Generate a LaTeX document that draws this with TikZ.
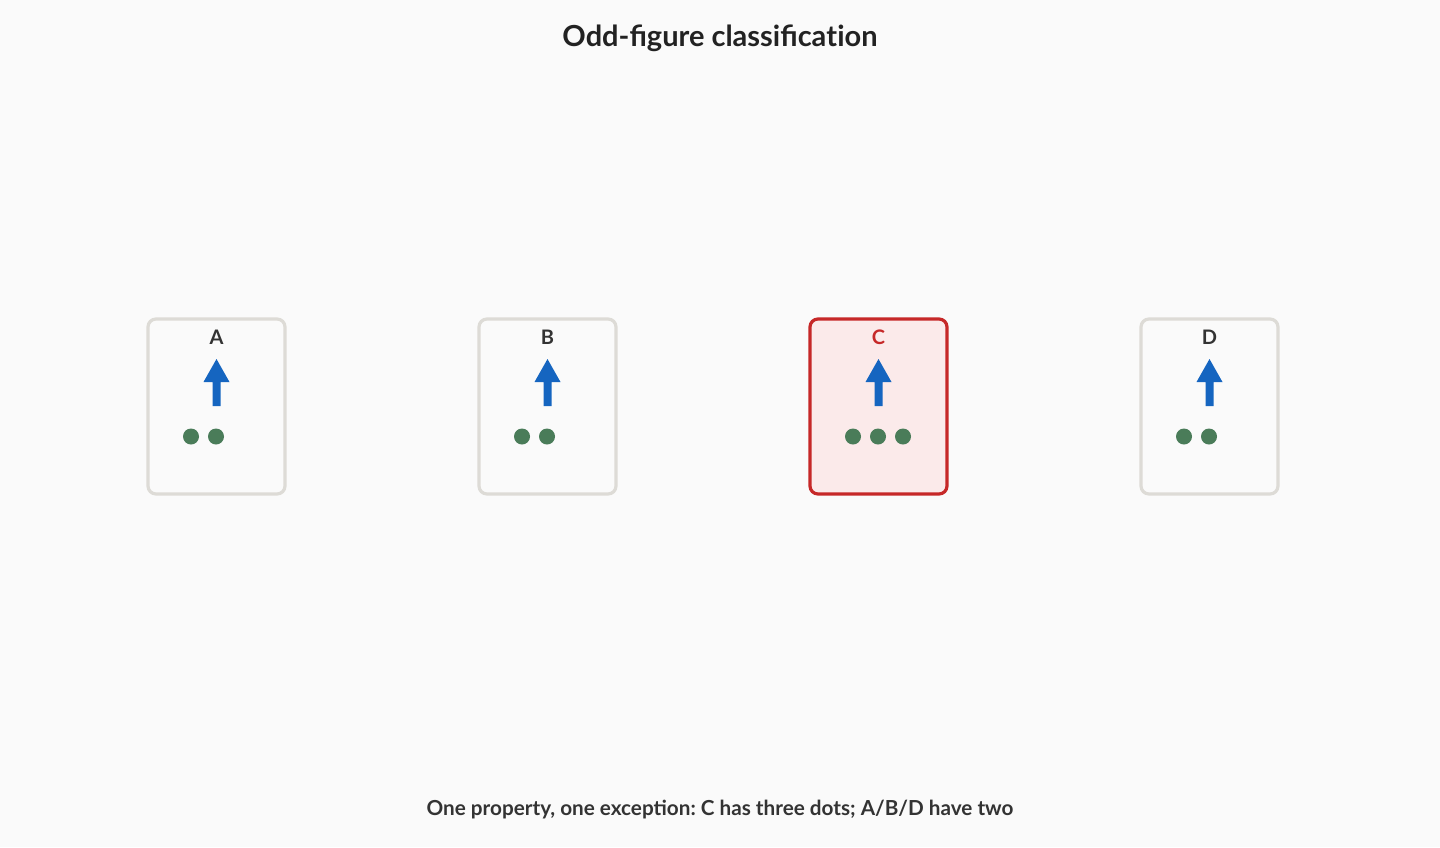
\documentclass[tikz,border=0pt]{standalone}
\usepackage{fontspec}
\setmainfont{Lato}
\usetikzlibrary{calc}
\frenchspacing
\definecolor{bg}{HTML}{FAFAFA}
\definecolor{cardedge}{HTML}{DDDBD6}
\definecolor{oddedge}{HTML}{C62828}
\definecolor{oddfill}{HTML}{FBEAEA}
\definecolor{arrowblue}{HTML}{1565C0}
\definecolor{dotgreen}{HTML}{4A7C59}
\definecolor{textdark}{HTML}{333333}
\definecolor{titledark}{HTML}{222222}
\tikzset{
  card/.style={draw=cardedge, line width=3.2pt, fill=bg, rounded corners=8pt, minimum width=137pt, minimum height=175pt, inner sep=0pt},
  oddcard/.style={card, draw=oddedge, fill=oddfill},
  cardlabel/.style={font=\bfseries\fontsize{20}{24}\selectfont, text=textdark},
  oddlabel/.style={cardlabel, text=oddedge},
  dot/.style={circle, fill=dotgreen, minimum size=16pt, inner sep=0pt},
  upstroke/.style={fill=arrowblue},
}
\newcommand{\uparrowat}[1]{%
  \fill[upstroke] ($(#1)+(-4,-29)$) -- ($(#1)+(4,-29)$) -- ($(#1)+(4,-5)$) -- ($(#1)+(13,-5)$) -- ($(#1)+(0,18)$) -- ($(#1)+(-13,-5)$) -- ($(#1)+(-4,-5)$) -- cycle;}
\begin{document}
\begin{tikzpicture}[x=1pt,y=1pt]
\fill[bg] (0,0) rectangle (1440,-847);
\useasboundingbox (0,0) rectangle (1440,-847);
\node[font=\bfseries\fontsize{29}{35}\selectfont, text=titledark] (title) at (720,-38.5) {Odd-figure classifica\kern0pt t\kern0pt ion};
\foreach \n/\x/\s in {A/216.5/card, B/547.5/card, C/878.5/oddcard, D/1209.5/card}{
  \node[\s] (card\n) at (\x,-406.5) {};
}
\node[cardlabel] (labA) at (216.5,-337.5) {A};
\node[cardlabel] (labB) at (547.5,-337.5) {B};
\node[oddlabel] (labC) at (878.5,-337.5) {C};
\node[cardlabel] (labD) at (1209.5,-337.5) {D};
\foreach \x in {216.5,547.5,878.5,1209.5}{
  \coordinate (ac) at (\x,-377);
  \uparrowat{ac}
}
\node[dot] (a1) at (191,-436.5) {};
\node[dot] (a2) at (216,-436.5) {};
\node[dot] (b1) at (522,-436.5) {};
\node[dot] (b2) at (547,-436.5) {};
\node[dot] (c1) at (853,-436.5) {};
\node[dot] (c2) at (878,-436.5) {};
\node[dot] (c3) at (903,-436.5) {};
\node[dot] (d1) at (1184,-436.5) {};
\node[dot] (d2) at (1209,-436.5) {};
\node[font=\bfseries\fontsize{20.7}{25}\selectfont, text=textdark] (caption) at (720,-810) {One property, one exception: C has three dots; A/B/D have two};
\end{tikzpicture}
\end{document}
